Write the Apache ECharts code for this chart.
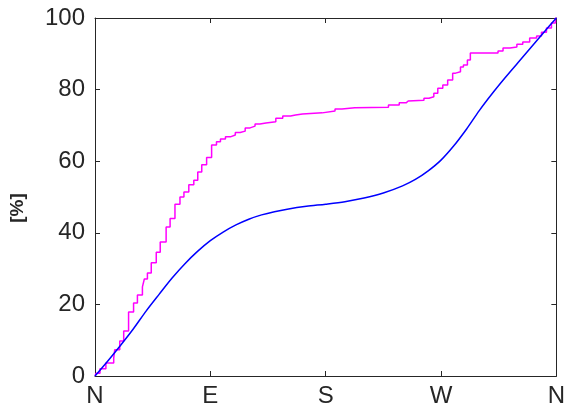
<!DOCTYPE html>
<html>
<head>
<meta charset="utf-8">
<script src="https://cdn.jsdelivr.net/npm/echarts@6/dist/echarts.min.js"></script>
<style>
  html, body { margin: 0; padding: 0; background: #fff; }
  #chart { width: 568px; height: 419px; }
</style>
</head>
<body>
<div id="chart"></div>
<script>
// Direction tick labels (degrees from north: 0, 90, 180, 270, 360)
var dirTicks = [0, 90, 180, 270, 360];
var dirLabels = ['N', 'E', 'S', 'W', 'N'];

// Smooth cumulative curve: azimuth [deg] and share [%]
var smoothDeg = [0, 10, 20, 30, 40, 50, 60, 70, 80, 90, 100, 110, 120, 130, 140, 150, 165, 180, 195, 210, 225, 240, 250, 260, 270, 280, 290, 300, 310, 320, 330, 340, 350, 360];
var smoothVal = [0, 4.2, 8.6, 13.2, 18.2, 22.8, 27.3, 31.3, 34.8, 37.8, 40.2, 42.2, 43.8, 45.0, 45.9, 46.6, 47.4, 48.0, 48.7, 49.7, 51.1, 53.1, 54.9, 57.3, 60.3, 64.3, 69.0, 74.2, 78.9, 83.3, 87.5, 91.7, 95.9, 100];

// Stepped cumulative curve: riser azimuth [deg] and level after the riser [%]
var stepDeg = [0, 0.8, 3.9, 8.5, 14.6, 15.4, 19.3, 22.4, 26.2, 30.1, 33.1, 37.0, 38.5, 40.9, 43.9, 47.8, 50.9, 55.5, 58.6, 62.4, 66.3, 69.4, 73.2, 77.1, 80.2, 83.3, 87.1, 91.0, 94.8, 97.9, 101.8, 105.6, 109.5, 113.3, 117.2, 121.0, 124.9, 128.7, 133.4, 141.1, 146.5, 152.6, 156.5, 161.9, 177.3, 187.3, 192.7, 202.7, 229.0, 237.4, 242.8, 244.4, 256.7, 260.6, 264.4, 267.5, 271.4, 275.2, 279.1, 281.4, 285.2, 287.5, 290.6, 292.9, 314.5, 318.4, 323.8, 329.2, 333.8, 339.2, 344.6, 348.4, 352.3, 356.2, 359.3, 360];
var stepVal = [0, 0.8, 2.0, 3.6, 5.0, 7.3, 9.8, 12.6, 17.9, 20.4, 22.6, 24.9, 27.1, 28.8, 31.6, 34.6, 37.4, 41.6, 44.0, 48.0, 50.0, 51.4, 53.4, 54.7, 57.0, 59.0, 61.0, 64.5, 65.4, 66.2, 66.8, 67.3, 68.0, 68.4, 69.3, 69.8, 70.4, 70.7, 71.0, 72.0, 72.6, 72.9, 73.2, 73.5, 74.0, 74.6, 74.9, 75.1, 75.7, 76.3, 76.8, 77.0, 77.6, 78.0, 79.0, 80.4, 81.3, 82.7, 84.6, 85.0, 86.3, 86.9, 88.3, 90.2, 90.8, 91.6, 91.9, 92.7, 93.3, 94.4, 95.0, 96.0, 97.2, 98.6, 100, 100];

// Percent axis ticks
var yTicks = [0, 20, 40, 60, 80, 100];

function pairs(xs, ys) {
  return xs.map(function (x, i) { return [x, ys[i]]; });
}

var axisColor = '#262626';
var fontFam = '"Liberation Sans", Arial, Helvetica, sans-serif';

var chart = echarts.init(document.getElementById('chart'), null, { renderer: 'canvas' });

// Frame axes (top and right) that only carry inward ticks
function frameAxis(pos, isX) {
  return {
    type: 'value',
    min: isX ? dirTicks[0] : yTicks[0],
    max: isX ? dirTicks[dirTicks.length - 1] : yTicks[yTicks.length - 1],
    interval: isX ? 90 : 20,
    position: pos,
    axisLine: { show: true, onZero: false, lineStyle: { color: axisColor, width: 1 } },
    axisTick: { show: true, inside: true, length: 5, lineStyle: { color: axisColor } },
    axisLabel: { show: false },
    splitLine: { show: false }
  };
}

chart.setOption({
  animation: false,
  backgroundColor: '#ffffff',
  grid: { left: 90, right: 11, top: 18, bottom: 43, containLabel: false },
  xAxis: [
    {
      type: 'value',
      min: dirTicks[0],
      max: dirTicks[dirTicks.length - 1],
      interval: 90,
      position: 'bottom',
      axisLine: { show: true, lineStyle: { color: axisColor, width: 1 } },
      axisTick: { show: true, inside: true, length: 5, lineStyle: { color: axisColor } },
      splitLine: { show: false },
      axisLabel: {
        color: axisColor,
        fontFamily: fontFam,
        fontSize: 24,
        margin: 8,
        formatter: function (v) {
          var i = dirTicks.indexOf(v);
          return i >= 0 ? dirLabels[i] : '';
        }
      }
    },
    frameAxis('top', true)
  ],
  yAxis: [
    {
      type: 'value',
      min: yTicks[0],
      max: yTicks[yTicks.length - 1],
      interval: 20,
      position: 'left',
      name: '[%]',
      nameLocation: 'middle',
      nameGap: 68,
      nameRotate: 90,
      nameTextStyle: {
        color: axisColor,
        fontFamily: 'Liberation Sans',
        fontSize: 19,
        fontWeight: 'bold',
        padding: [0, 22, 0, 0]
      },
      axisLine: { show: true, lineStyle: { color: axisColor, width: 1 } },
      axisTick: { show: true, inside: true, length: 5, lineStyle: { color: axisColor } },
      splitLine: { show: false },
      axisLabel: {
        color: axisColor,
        fontFamily: fontFam,
        fontSize: 24,
        margin: 10
      }
    },
    frameAxis('right', false)
  ],
  series: [
    {
      name: 'stepped',
      type: 'line',
      xAxisIndex: 0,
      yAxisIndex: 0,
      step: 'end',
      showSymbol: false,
      symbol: 'none',
      data: pairs(stepDeg, stepVal),
      lineStyle: { color: '#ff00ff', width: 1.5 },
      z: 3
    },
    {
      name: 'smooth',
      type: 'line',
      xAxisIndex: 0,
      yAxisIndex: 0,
      smooth: 0.3,
      showSymbol: false,
      symbol: 'none',
      data: pairs(smoothDeg, smoothVal),
      lineStyle: { color: '#0000ff', width: 1.5 },
      z: 4
    }
  ]
});
</script>
</body>
</html>
